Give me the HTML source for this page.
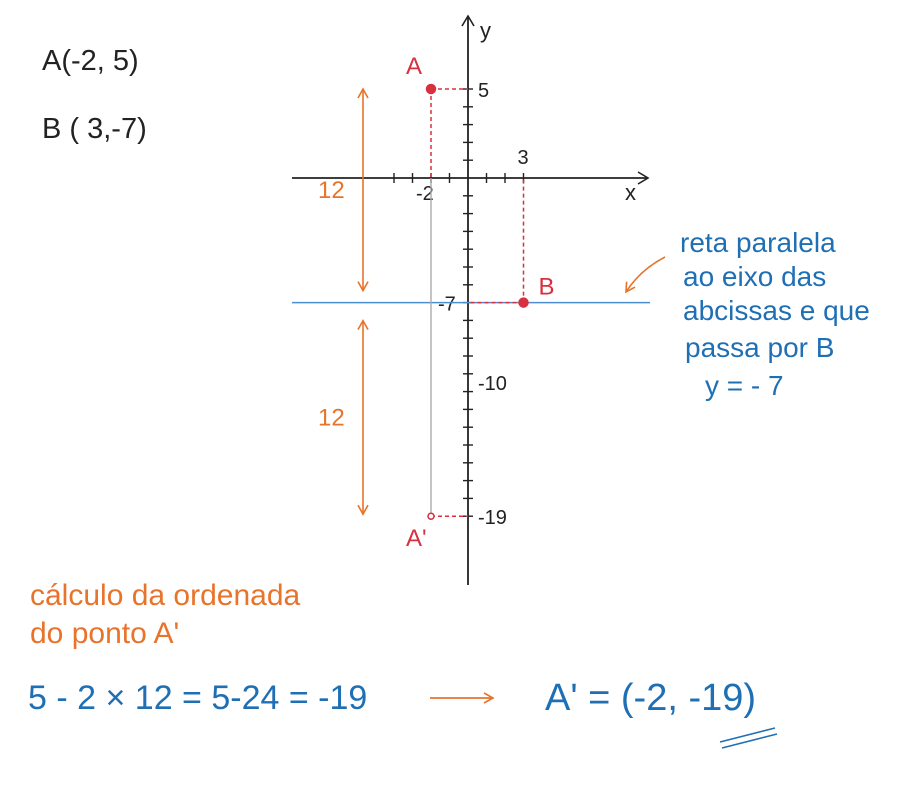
<!DOCTYPE html>
<html><head><meta charset="utf-8"><style>
html,body{margin:0;padding:0;background:#fff;}
svg{display:block;}
text{font-family:"Liberation Sans",sans-serif;}
</style></head><body>
<svg id="chart" width="900" height="788" viewBox="0 0 900 788">
<defs>
<marker id="ah" markerWidth="12" markerHeight="12" refX="10" refY="6" orient="auto" markerUnits="userSpaceOnUse"><path d="M1,1 L10,6 L1,11" fill="none" stroke="#e8732a" stroke-width="1.6"/></marker>
<marker id="ahs" markerWidth="12" markerHeight="12" refX="2" refY="6" orient="auto" markerUnits="userSpaceOnUse"><path d="M11,1 L2,6 L11,11" fill="none" stroke="#e8732a" stroke-width="1.6"/></marker>
<marker id="ahk" markerWidth="14" markerHeight="14" refX="11" refY="7" orient="auto" markerUnits="userSpaceOnUse"><path d="M1,1 L11,7 L1,13" fill="none" stroke="#222" stroke-width="1.6"/></marker>
</defs>
<g id="axes"></g>
<g id="marks"></g>
<g fill="#222" font-size="29">
<text x="42" y="70">A(-2, 5)</text>
<text x="42" y="138">B ( 3,-7)</text>
</g>
<g fill="#1f6fb5" font-size="28">
<text x="680" y="252">reta paralela</text>
<text x="683" y="286">ao eixo das</text>
<text x="683" y="320">abcissas e que</text>
<text x="685" y="357">passa por B</text>
<text x="705" y="395">y = - 7</text>
</g>
<path d="M665,257 Q640,270 626,292" fill="none" stroke="#e8732a" stroke-width="1.6" marker-end="url(#ah)"/>
<g fill="#e8732a" font-size="30">
<text x="30" y="605">cálculo da ordenada</text>
<text x="30" y="643">do ponto A'</text>
</g>
<text x="28" y="709" fill="#1f6fb5" font-size="34">5 - 2 × 12 = 5-24 = -19</text>
<line x1="430" y1="698" x2="493" y2="698" stroke="#e8732a" stroke-width="1.8" marker-end="url(#ah)"/>
<text x="545" y="710" fill="#1f6fb5" font-size="38">A' = (-2, -19)</text>
<g stroke="#1f6fb5" stroke-width="1.6">
<line x1="720" y1="742" x2="775" y2="728"/><line x1="722" y1="748" x2="777" y2="734"/>
</g>
</svg>
<script>
const tickValues = [-19,-18,-17,-16,-15,-14,-13,-12,-11,-10,-9,-8,-7,-6,-5,-4,-3,-2,-1,1,2,3,4,5];
const xTickValues = [-4,-3,-2,-1,1,2,3];
const pointNames = ["A","B","A'"];
const pointX = [-2,3,-2];
const pointY = [5,-7,-19];
const yTickLabels = [5,-7,-10,-19];
const xTickLabels = [-2,3];
const lineY = [-7];
const distances = [12,12];

const NS="http://www.w3.org/2000/svg";
const ox=468, oy=178, sx=18.5, sy=17.8;
const X=v=>ox+v*sx, Y=v=>oy-v*sy;
function mk(parent,tag,attrs){const e=document.createElementNS(NS,tag);for(const k in attrs)e.setAttribute(k,attrs[k]);parent.appendChild(e);return e;}
const ax=document.getElementById('axes'), mg=document.getElementById('marks');

let e=mk(ax,'line',{x1:292,y1:oy,x2:648,y2:oy,stroke:'#222','stroke-width':1.8,'marker-end':'url(#ahk)'});


e=mk(ax,'line',{x1:ox,y1:585,x2:ox,y2:16,stroke:'#222','stroke-width':1.8,'marker-end':'url(#ahk)'});


e=mk(ax,'text',{x:625,y:200,'font-size':22,fill:'#222'});e.textContent='x';


e=mk(ax,'text',{x:480,y:38,'font-size':22,fill:'#222'});e.textContent='y';


tickValues.forEach(v=>{const t=mk(ax,'line',{x1:ox-5,x2:ox+5,y1:Y(v),y2:Y(v),stroke:'#222','stroke-width':1.4});

});
xTickValues.forEach(v=>{const t=mk(ax,'line',{x1:X(v),x2:X(v),y1:oy-5,y2:oy+5,stroke:'#222','stroke-width':1.4});

});
yTickLabels.forEach(v=>{const ly=v===-10?390:Y(v)+8;const t=mk(ax,'text',{x:v===-7?ox-30:ox+10,y:ly,'font-size':20,fill:'#222'});t.textContent=(v<0?'-':'')+Math.abs(v);

});
xTickLabels.forEach(v=>{const t=mk(ax,'text',{x:X(v)-(v<0?15:6),y:v<0?oy+22:oy-14,'font-size':20,fill:'#222'});t.textContent=String(v);

});

lineY.forEach(v=>{const l=mk(mg,'line',{x1:292,x2:650,y1:Y(v),y2:Y(v),stroke:'#4a90d0','stroke-width':1.5});

});
e=mk(mg,'line',{x1:X(pointX[0]),x2:X(pointX[2]),y1:oy,y2:Y(pointY[2]),stroke:'#aaa','stroke-width':1.4});


const ax0=363;
const segs=[[Y(pointY[0]),Y(lineY[0])-12],[Y(lineY[0])+18,Y(pointY[2])-2]];
segs.forEach((s,i)=>{const l=mk(mg,'line',{x1:ax0,x2:ax0,y1:s[0],y2:s[1],stroke:'#e8732a','stroke-width':1.6,'marker-start':'url(#ahs)','marker-end':'url(#ah)'});


const t=mk(mg,'text',{x:318,y:(s[0]+s[1])/2+8,'font-size':24,fill:'#e8732a'});t.textContent=String(distances[i]);

});

pointNames.forEach((n,i)=>{
 const px=X(pointX[i]), py=Y(pointY[i]);
 let d=mk(mg,'path',{stroke:'#d9303f','stroke-width':1.5,'stroke-dasharray':'4,3',fill:'none'});
 if(i===0||i===1){d.setAttribute('d',`M${px},${py} L${px},${oy} M${px},${py} L${ox},${py}`);} else {d.setAttribute('d',`M${px},${py} L${ox},${py}`);}
 
 
 const c=mk(mg,'circle',{cx:px,cy:py,r:i===2?3:4.5,fill:i===2?'#fff':'#d9303f',stroke:'#d9303f','stroke-width':1.5});
 
 
 const lx=i===1?px+15:px-25, ly=i===0?py-15:(i===1?py-8:py+30);
 const t=mk(mg,'text',{x:lx,y:ly,'font-size':24,fill:'#d9303f'});t.textContent=n;
 
 
});
</script>
</body></html>
